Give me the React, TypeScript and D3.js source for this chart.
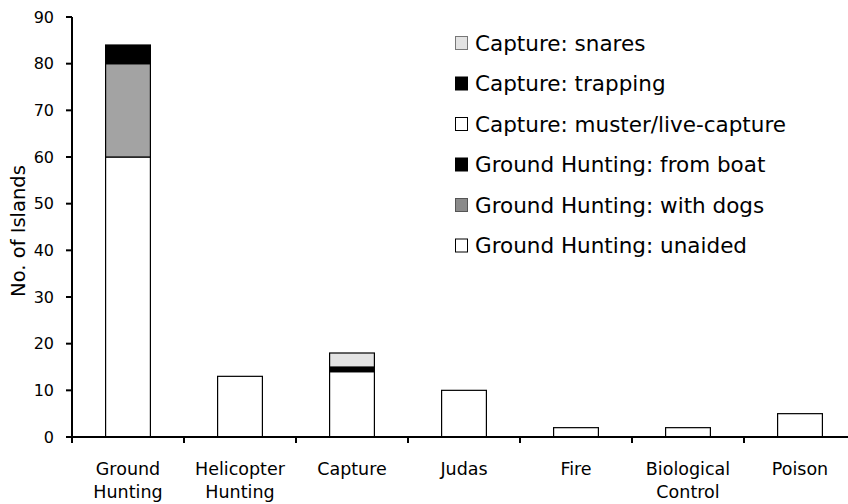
import React, { useEffect, useRef } from 'react';
import * as d3 from 'd3';

const categories = [
  'Ground Hunting',
  'Helicopter Hunting',
  'Capture',
  'Judas',
  'Fire',
  'Biological Control',
  'Poison',
];
const categoryLines = [
  ['Ground', 'Hunting'],
  ['Helicopter', 'Hunting'],
  ['Capture'],
  ['Judas'],
  ['Fire'],
  ['Biological', 'Control'],
  ['Poison'],
];

// series values, one per category
const ghUnaided = [60, 0, 0, 0, 0, 0, 0];
const ghWithDogs = [20, 0, 0, 0, 0, 0, 0];
const ghFromBoat = [4, 0, 0, 0, 0, 0, 0];
const capMuster = [0, 0, 14, 0, 0, 0, 0];
const capTrapping = [0, 0, 1, 0, 0, 0, 0];
const capSnares = [0, 0, 3, 0, 0, 0, 0];
const otherMethods = [0, 13, 0, 10, 2, 2, 5];

const yTicks = [0, 10, 20, 30, 40, 50, 60, 70, 80, 90];

const seriesKeys = ['unaided', 'dogs', 'boat', 'muster', 'trapping', 'snares', 'other'];
const seriesFill: Record<string, string> = {
  unaided: '#ffffff',
  dogs: '#a3a3a3',
  boat: '#000000',
  muster: '#ffffff',
  trapping: '#000000',
  snares: '#e3e3e3',
  other: '#ffffff',
};

const legendItems = [
  { label: 'Capture: snares', fill: '#e3e3e3', stroke: '#777' },
  { label: 'Capture: trapping', fill: '#000', stroke: '#000' },
  { label: 'Capture: muster/live-capture', fill: '#fff', stroke: '#000' },
  { label: 'Ground Hunting: from boat', fill: '#000', stroke: '#000' },
  { label: 'Ground Hunting: with dogs', fill: '#8a8a8a', stroke: '#555' },
  { label: 'Ground Hunting: unaided', fill: '#fff', stroke: '#000' },
];

const W = 848;
const H = 504;

const App: React.FC = () => {
  const svgRef = useRef<SVGSVGElement>(null);

  useEffect(() => {
    if (!svgRef.current) return;
    const svg = d3.select(svgRef.current);
    svg.selectAll('*').remove();

    const left = 72;
    const right = 856;
    const top = 17;
    const bottom = 437;
    const font = 'DejaVu Sans, Verdana, sans-serif';

    const rows = categories.map((c, i) => ({
      cat: c,
      unaided: ghUnaided[i],
      dogs: ghWithDogs[i],
      boat: ghFromBoat[i],
      muster: capMuster[i],
      trapping: capTrapping[i],
      snares: capSnares[i],
      other: otherMethods[i],
    }));

    const x = d3.scaleBand<string>().domain(categories).range([left, right]).padding(0);
    const y = d3.scaleLinear().domain([0, 90]).range([bottom, top]);
    const barW = x.bandwidth() * 0.4;

    const stacked = d3.stack<any>().keys(seriesKeys)(rows);

    const g = svg.append('g');
    stacked.forEach((layer) => {
      g.selectAll(null)
        .data(layer.filter((d) => d[1] - d[0] > 0))
        .enter()
        .append('rect')
        .attr('x', (d) => (x(d.data.cat) as number) + (x.bandwidth() - barW) / 2)
        .attr('y', (d) => y(d[1]))
        .attr('width', barW)
        .attr('height', (d) => y(d[0]) - y(d[1]))
        .attr('fill', seriesFill[layer.key])
        .attr('stroke', '#000')
        .attr('stroke-width', 1.2);
    });

    // y axis
    const yAxis = svg.append('g').attr('transform', `translate(${left},0)`);
    yAxis.append('line').attr('x1', 0).attr('x2', 0).attr('y1', top).attr('y2', bottom)
      .attr('stroke', '#000').attr('stroke-width', 2);
    yTicks.forEach((t) => {
      yAxis.append('line').attr('x1', -6).attr('x2', 0).attr('y1', y(t)).attr('y2', y(t))
        .attr('stroke', '#000').attr('stroke-width', 2);
      yAxis.append('text').attr('x', -18).attr('y', y(t)).attr('dy', '0.36em')
        .attr('text-anchor', 'end').style('font-family', font).style('font-size', '16px')
        .text(t);
    });

    // x axis
    const xAxis = svg.append('g');
    xAxis.append('line').attr('x1', left - 6).attr('x2', right + 2).attr('y1', bottom).attr('y2', bottom)
      .attr('stroke', '#000').attr('stroke-width', 2);
    const boundaries = categories.map((c) => x(c) as number).concat([right]);
    boundaries.forEach((b) => {
      xAxis.append('line').attr('x1', b).attr('x2', b).attr('y1', bottom).attr('y2', bottom + 6)
        .attr('stroke', '#000').attr('stroke-width', 2);
    });
    categories.forEach((c, i) => {
      const cx = (x(c) as number) + x.bandwidth() / 2;
      const t = xAxis.append('text')
        .attr('x', cx)
        .attr('y', 475)
        .attr('text-anchor', 'middle')
        .style('font-family', font)
        .style('font-size', '17.5px');
      categoryLines[i].forEach((line, j) => {
        t.append('tspan').attr('x', cx).attr('dy', j === 0 ? 0 : 23).text(line);
      });
    });

    // y label
    svg.append('text')
      .attr('transform', `translate(25,231) rotate(-90)`)
      .attr('text-anchor', 'middle')
      .style('font-family', font)
      .style('font-size', '19.5px')
      .text('No. of Islands');

    // legend
    const lg = svg.append('g').attr('transform', 'translate(455,43)');
    legendItems.forEach((item, i) => {
      const row = lg.append('g').attr('transform', `translate(0,${i * 40.5})`);
      row.append('rect').attr('x', 0.5).attr('y', -6.5).attr('width', 12).attr('height', 13)
        .attr('fill', item.fill).attr('stroke', item.stroke).attr('stroke-width', 1);
      row.append('text').attr('x', 20).attr('y', 0).attr('dy', '0.36em')
        .style('font-family', font).style('font-size', '21.5px').text(item.label);
    });
  }, []);

  return (
    <div style={{ position: 'absolute', left: 0, top: 0 }}>
      <svg ref={svgRef} width={W} height={H} style={{ background: '#fff', display: 'block' }} />
    </div>
  );
};

export default App;
